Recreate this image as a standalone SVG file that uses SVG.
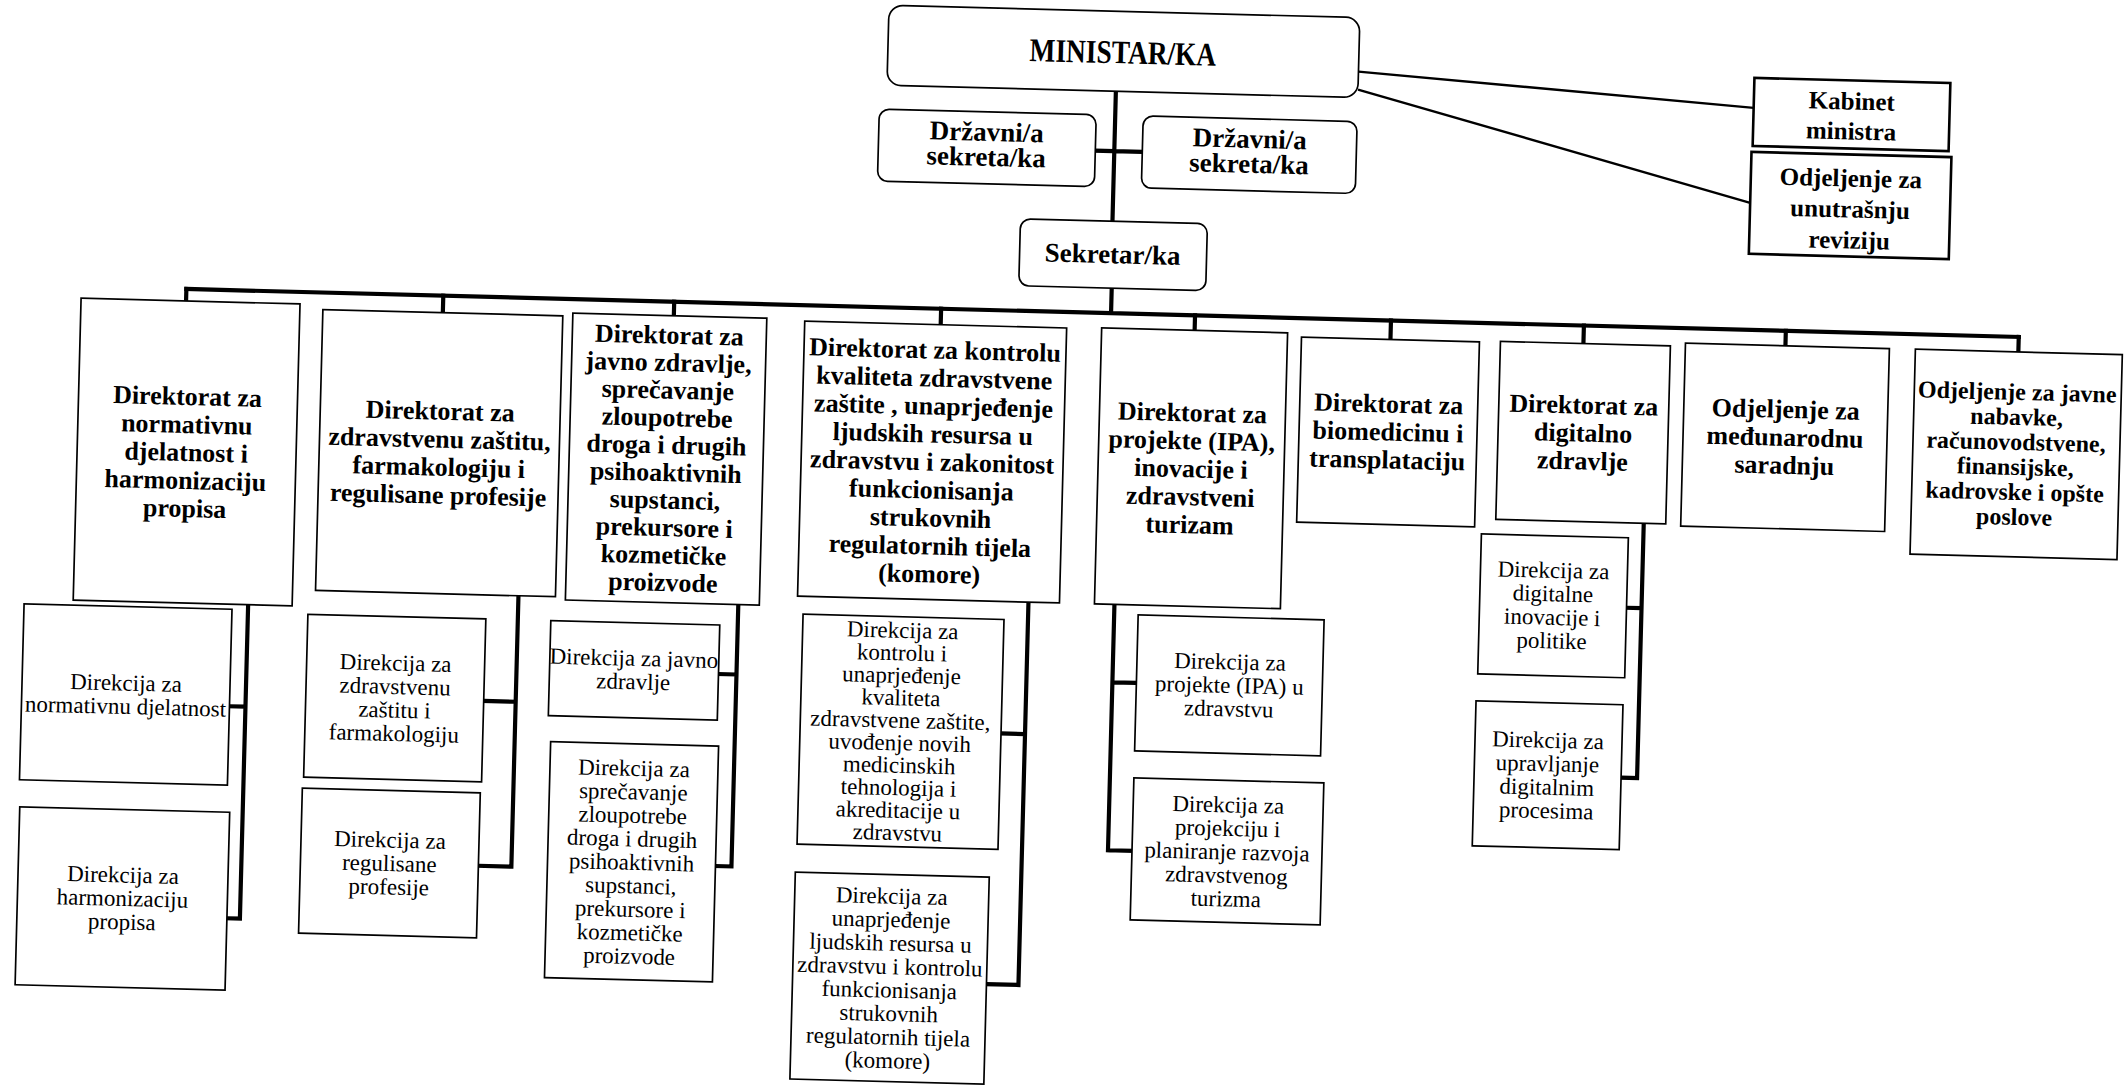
<svg xmlns="http://www.w3.org/2000/svg" width="2126" height="1088" viewBox="0 0 2126 1088">
<style>
.box{fill:#fff;stroke:#000;stroke-width:1.7}
.tbox{fill:#fff;stroke:#000;stroke-width:2.6}
.b{font-family:"Liberation Serif",serif;font-weight:bold;text-anchor:middle;fill:#000}
.r{font-family:"Liberation Serif",serif;text-anchor:middle;fill:#000;font-size:23px}
.d{font-size:26px}
.conn{stroke:#000;stroke-width:4.2;fill:none;stroke-linecap:square}
.thin{stroke:#000;stroke-width:2.4;fill:none}
</style>
<rect width="2126" height="1088" fill="#fff"/>
<g transform="rotate(1.5 1063 544)">
<g id="connectors">
<path class="conn" d="M1104,90 V220 M1085,150 H1132 M1105,287 V312 M180,312 H2013"/>
<path class="conn" d="M180,312 V324 M437,312 V329 M668,312 V326 M935,312 V328 M1189,312 V327 M1385,312 V331 M1578,312 V330 M1780,312 V327 M2013,312 V327"/>
<path class="thin" d="M1346,64 L1742,90 M1346,82 L1741,185"/>
<path class="conn" d="M250,626 V940 M234,728 H250 M237,940 H250"/>
<path class="conn" d="M520,610 V881 M488,716 H520 M487,881 H520"/>
<path class="conn" d="M740,613 V875 M722,683 H740 M724,875 H740"/>
<path class="conn" d="M1030,603 V986 M1006,735 H1030 M998,986 H1030"/>
<path class="conn" d="M1116,603 V849 M1116,681 H1140 M1116,849 H1140"/>
<path class="conn" d="M1643,508 V763 M1628,593 H1643 M1627,763 H1643"/>
</g>
<g id="ministar"><rect class="box" x="875" y="10" width="471" height="80" rx="14"/><text class="b" transform="translate(1110 62) scale(0.83 1)" x="0" y="0" font-size="33">MINISTAR/KA</text></g>
<g id="drzavni1"><rect class="box" x="868" y="114" width="217" height="72" rx="10"/><text class="b" font-size="27"><tspan x="976" y="143">Državni/a</tspan><tspan x="976" y="168">sekreta/ka</tspan></text></g>
<g id="drzavni2"><rect class="box" x="1132" y="114" width="214" height="72" rx="10"/><text class="b" font-size="27"><tspan x="1239" y="143">Državni/a</tspan><tspan x="1239" y="168">sekreta/ka</tspan></text></g>
<g id="sekretar"><rect class="box" x="1012" y="220" width="187" height="67" rx="10"/><text class="b" x="1105" y="262" font-size="27">Sekretar/ka</text></g>
<g id="kabinet"><rect class="tbox" x="1742" y="60" width="196" height="68"/><text class="b" font-size="25"><tspan x="1840" y="89">Kabinet</tspan><tspan x="1840" y="119">ministra</tspan></text></g>
<g id="revizija"><rect class="tbox" x="1741" y="134" width="200" height="102"/><text class="b" font-size="25"><tspan x="1841" y="166">Odjeljenje za</tspan><tspan x="1841" y="197">unutrašnju</tspan><tspan x="1841" y="228">reviziju</tspan></text></g>

<g id="dir1"><rect class="box" x="75" y="324" width="219" height="302"/><text class="b d"><tspan x="184" y="428">Direktorat za</tspan><tspan x="184" y="456">normativnu</tspan><tspan x="184" y="484">djelatnost i</tspan><tspan x="184" y="512">harmonizaciju</tspan><tspan x="184" y="540">propisa</tspan></text></g>
<g id="dir2"><rect class="box" x="317" y="329" width="240" height="281"/><text class="b d"><tspan x="437" y="436">Direktorat za</tspan><tspan x="437" y="464">zdravstvenu zaštitu,</tspan><tspan x="437" y="492">farmakologiju i</tspan><tspan x="437" y="520">regulisane profesije</tspan></text></g>
<g id="dir3"><rect class="box" x="567" y="326" width="194" height="287"/><text class="b d"><tspan x="664" y="354">Direktorat za</tspan><tspan x="664" y="381.5">javno zdravlje,</tspan><tspan x="664" y="409">sprečavanje</tspan><tspan x="664" y="436.5">zloupotrebe</tspan><tspan x="664" y="464">droga i drugih</tspan><tspan x="664" y="491.5">psihoaktivnih</tspan><tspan x="664" y="519">supstanci,</tspan><tspan x="664" y="546.5">prekursore i</tspan><tspan x="664" y="574">kozmetičke</tspan><tspan x="664" y="601.5">proizvode</tspan></text></g>
<g id="dir4"><rect class="box" x="799" y="328" width="262" height="275"/><text class="b d"><tspan x="930" y="362">Direktorat za kontrolu</tspan><tspan x="930" y="390">kvaliteta zdravstvene</tspan><tspan x="930" y="418">zaštite , unaprjeđenje</tspan><tspan x="930" y="446">ljudskih resursa u</tspan><tspan x="930" y="474">zdravstvu i zakonitost</tspan><tspan x="930" y="502">funkcionisanja</tspan><tspan x="930" y="530">strukovnih</tspan><tspan x="930" y="558">regulatornih tijela</tspan><tspan x="930" y="586">(komore)</tspan></text></g>
<g id="dir5"><rect class="box" x="1096" y="327" width="186" height="276"/><text class="b d"><tspan x="1189" y="418">Direktorat za</tspan><tspan x="1189" y="446">projekte (IPA),</tspan><tspan x="1189" y="474">inovacije i</tspan><tspan x="1189" y="502">zdravstveni</tspan><tspan x="1189" y="530">turizam</tspan></text></g>
<g id="dir6"><rect class="box" x="1296" y="331" width="178" height="185"/><text class="b d"><tspan x="1385" y="404">Direktorat za</tspan><tspan x="1385" y="432">biomedicinu i</tspan><tspan x="1385" y="460">transplataciju</tspan></text></g>
<g id="dir7"><rect class="box" x="1495" y="330" width="170" height="178"/><text class="b d"><tspan x="1580" y="400">Direktorat za</tspan><tspan x="1580" y="428">digitalno</tspan><tspan x="1580" y="456">zdravlje</tspan></text></g>
<g id="dir8"><rect class="box" x="1680" y="327" width="204" height="183"/><text class="b d"><tspan x="1782" y="399">Odjeljenje za</tspan><tspan x="1782" y="427">međunarodnu</tspan><tspan x="1782" y="455">saradnju</tspan></text></g>
<g id="dir9"><rect class="box" x="1910" y="327" width="207" height="205"/><text class="b" font-size="24"><tspan x="2013" y="375">Odjeljenje za javne</tspan><tspan x="2013" y="400">nabavke,</tspan><tspan x="2013" y="425">računovodstvene,</tspan><tspan x="2013" y="450">finansijske,</tspan><tspan x="2013" y="475">kadrovske i opšte</tspan><tspan x="2013" y="500">poslove</tspan></text></g>

<g id="dk1a"><rect class="box" x="26" y="631" width="208" height="176"/><text class="r"><tspan x="130" y="715">Direkcija za</tspan><tspan x="130" y="738.5">normativnu djelatnost</tspan></text></g>
<g id="dk1b"><rect class="box" x="27" y="834" width="210" height="178"/><text class="r"><tspan x="132" y="907">Direkcija za</tspan><tspan x="132" y="930.5">harmonizaciju</tspan><tspan x="132" y="954">propisa</tspan></text></g>
<g id="dk2a"><rect class="box" x="310" y="634" width="178" height="163"/><text class="r"><tspan x="399" y="688">Direkcija za</tspan><tspan x="399" y="711.5">zdravstvenu</tspan><tspan x="399" y="735">zaštitu i</tspan><tspan x="399" y="758.5">farmakologiju</tspan></text></g>
<g id="dk2b"><rect class="box" x="309" y="808" width="178" height="145"/><text class="r"><tspan x="398" y="865">Direkcija za</tspan><tspan x="398" y="888.5">regulisane</tspan><tspan x="398" y="912">profesije</tspan></text></g>
<g id="dk3a"><rect class="box" x="553" y="634" width="169" height="95"/><text class="r"><tspan x="637" y="677">Direkcija za javno</tspan><tspan x="637" y="700.5">zdravlje</tspan></text></g>
<g id="dk3b"><rect class="box" x="556" y="755" width="168" height="236"/><text class="r"><tspan x="640" y="787">Direkcija za</tspan><tspan x="640" y="810.5">sprečavanje</tspan><tspan x="640" y="834">zloupotrebe</tspan><tspan x="640" y="857.5">droga i drugih</tspan><tspan x="640" y="881">psihoaktivnih</tspan><tspan x="640" y="904.5">supstanci,</tspan><tspan x="640" y="928">prekursore i</tspan><tspan x="640" y="951.5">kozmetičke</tspan><tspan x="640" y="975">proizvode</tspan></text></g>
<g id="dk4a"><rect class="box" x="805" y="621" width="201" height="230"/><text class="r"><tspan x="905" y="642">Direkcija za</tspan><tspan x="905" y="664.5">kontrolu i</tspan><tspan x="905" y="687">unaprjeđenje</tspan><tspan x="905" y="709.5">kvaliteta</tspan><tspan x="905" y="732">zdravstvene zaštite,</tspan><tspan x="905" y="754.5">uvođenje novih</tspan><tspan x="905" y="777">medicinskih</tspan><tspan x="905" y="799.5">tehnologija i</tspan><tspan x="905" y="822">akreditacije u</tspan><tspan x="905" y="844.5">zdravstvu</tspan></text></g>
<g id="dk4b"><rect class="box" x="804" y="879" width="194" height="207"/><text class="r"><tspan x="901" y="908">Direkcija za</tspan><tspan x="901" y="931.5">unaprjeđenje</tspan><tspan x="901" y="955">ljudskih resursa u</tspan><tspan x="901" y="978.5">zdravstvu i kontrolu</tspan><tspan x="901" y="1002">funkcionisanja</tspan><tspan x="901" y="1025.5">strukovnih</tspan><tspan x="901" y="1049">regulatornih tijela</tspan><tspan x="901" y="1072.5">(komore)</tspan></text></g>
<g id="dk5a"><rect class="box" x="1140" y="613" width="186" height="136"/><text class="r"><tspan x="1233" y="665">Direkcija za</tspan><tspan x="1233" y="688.5">projekte (IPA) u</tspan><tspan x="1233" y="712">zdravstvu</tspan></text></g>
<g id="dk5b"><rect class="box" x="1140" y="776" width="190" height="142"/><text class="r"><tspan x="1235" y="808">Direkcija za</tspan><tspan x="1235" y="831.5">projekciju i</tspan><tspan x="1235" y="855">planiranje razvoja</tspan><tspan x="1235" y="878.5">zdravstvenog</tspan><tspan x="1235" y="902">turizma</tspan></text></g>
<g id="dk7a"><rect class="box" x="1481" y="523" width="147" height="140"/><text class="r"><tspan x="1554" y="565">Direkcija za</tspan><tspan x="1554" y="588.5">digitalne</tspan><tspan x="1554" y="612">inovacije i</tspan><tspan x="1554" y="635.5">politike</tspan></text></g>
<g id="dk7b"><rect class="box" x="1480" y="690" width="147" height="145"/><text class="r"><tspan x="1553" y="735">Direkcija za</tspan><tspan x="1553" y="758.5">upravljanje</tspan><tspan x="1553" y="782">digitalnim</tspan><tspan x="1553" y="805.5">procesima</tspan></text></g>
</g>
</svg>
